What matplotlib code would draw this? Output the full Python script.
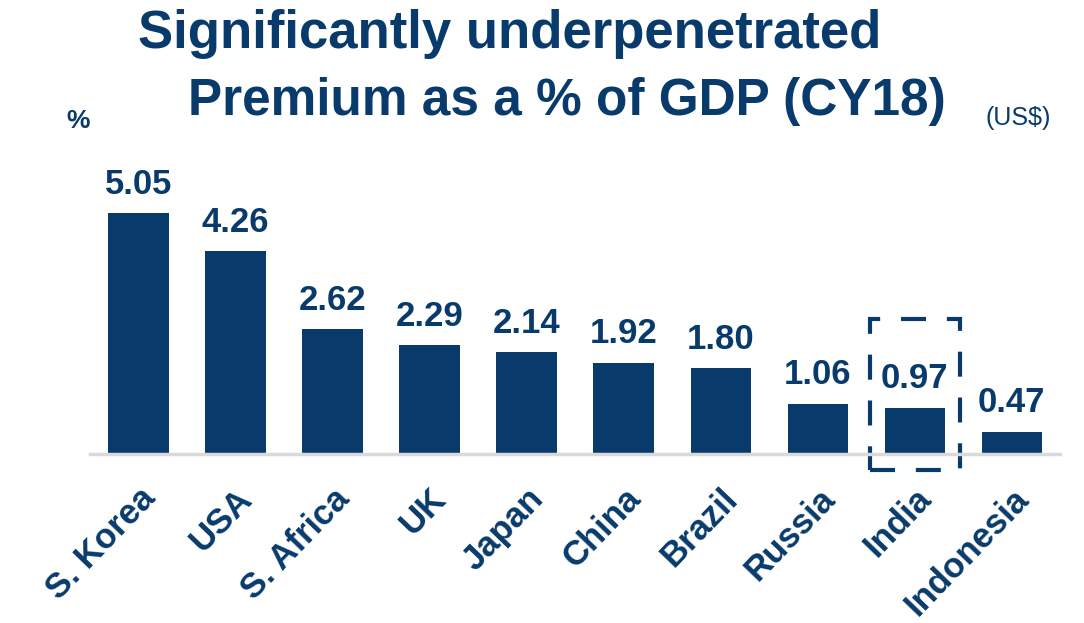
import matplotlib
matplotlib.use('Agg')
import matplotlib.pyplot as plt
from matplotlib.patches import Rectangle

countries = ['S. Korea', 'USA', 'S. Africa', 'UK', 'Japan', 'China',
             'Brazil', 'Russia', 'India', 'Indonesia']
premium_pct = [5.05, 4.26, 2.62, 2.29, 2.14, 1.92, 1.80, 1.06, 0.97, 0.47]
highlight = 'India'

navy = '#083a6b'
plt.rcParams['font.family'] = ['Liberation Sans', 'DejaVu Sans']

fig = plt.figure(figsize=(10.84, 6.23), dpi=100)
ax = fig.add_axes([0.083, 0.271, 0.895, 0.459])

x = range(len(countries))
ax.bar(x, premium_pct, width=0.62, color=navy)
for xi, v in zip(x, premium_pct):
    ax.annotate(f'{v:.2f}', (xi, v), xytext=(0, 9), textcoords='offset points',
                ha='center', va='bottom', fontsize=25, fontweight='bold', color=navy)

ax.set_xlim(-0.5, 9.5)
ax.set_ylim(0, 6)
ax.set_yticks([])
ax.set_xticks(list(x))
ax.set_xticklabels(countries, rotation=46, ha='right', rotation_mode='anchor',
                   fontsize=25, fontweight='bold', color=navy)
ax.tick_params(axis='x', length=0, pad=20)
for s in ['top', 'right', 'left']:
    ax.spines[s].set_visible(False)
ax.spines['bottom'].set_color('#d9d9d9')
ax.spines['bottom'].set_linewidth(2.5)

# dashed box around highlighted country
i = countries.index(highlight)
box = Rectangle((i - 0.46, -0.34), 0.93, 3.17, fill=False, edgecolor=navy,
                linewidth=3, linestyle=(0, (6, 5)), clip_on=False)
ax.add_patch(box)

fig.text(0.470, 0.923, 'Significantly underpenetrated', ha='center', va='baseline',
         fontsize=38, fontweight='bold', color=navy)
fig.text(0.523, 0.815, 'Premium as a % of GDP (CY18)', ha='center', va='baseline',
         fontsize=37, fontweight='bold', color=navy)
fig.text(0.072, 0.805, '%', ha='center', va='center', fontsize=19,
         fontweight='bold', color=navy)
fig.text(0.939, 0.810, '(US$)', ha='center', va='center', fontsize=18, color=navy)

fig.savefig('out.png', dpi=100, facecolor='white')
